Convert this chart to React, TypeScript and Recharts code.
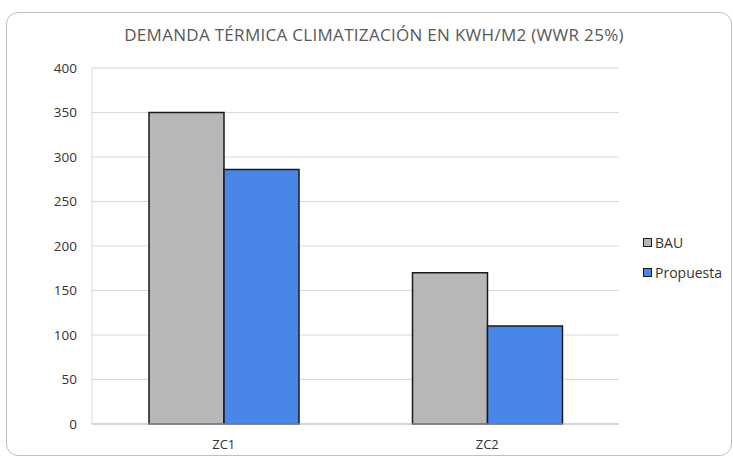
import { BarChart, Bar, XAxis, YAxis, CartesianGrid } from "recharts";

const categories = ["ZC1", "ZC2"];
const bauValues = [350, 170];
const propuestaValues = [286, 110];
const yTicks = [0, 50, 100, 150, 200, 250, 300, 350, 400];

const seriesList = [
  { key: "BAU", values: bauValues, color: "#b7b7b7" },
  { key: "Propuesta", values: propuestaValues, color: "#4a86e8" },
];

const data = categories.map((zone, i) => ({
  zone,
  BAU: bauValues[i],
  Propuesta: propuestaValues[i],
}));

const FONT = "'Open Sans', 'Noto Sans', sans-serif";

export default function App() {
  return (
    <div
      style={{
        position: "absolute",
        left: 0,
        top: 0,
        width: 733,
        height: 457,
        overflow: "hidden",
        background: "#fff",
        fontFamily: FONT,
      }}
    >
      {/* card outline */}
      <div
        style={{
          position: "absolute",
          left: 6,
          top: 12,
          width: 726,
          height: 444,
          border: "1px solid #bfbfbf",
          borderRadius: 12,
          boxSizing: "border-box",
        }}
      />
      <div
        style={{
          position: "absolute",
          left: 0,
          top: 23,
          width: 748,
          textAlign: "center",
          fontSize: 17,
          color: "#595959",
          letterSpacing: 0.3,
        }}
      >
        DEMANDA TÉRMICA CLIMATIZACIÓN EN KWH/M2 (WWR 25%)
      </div>

      <div style={{ position: "absolute", left: 0, top: 0 }}>
        <BarChart
          width={733}
          height={457}
          data={data}
          margin={{ top: 68, right: 114, bottom: 0, left: 0 }}
          barGap={0}
          barSize={75}
        >
          <CartesianGrid stroke="#d9d9d9" vertical={false} />
          <XAxis
            dataKey="zone"
            axisLine={{ stroke: "#bfbfbf" }}
            tickLine={false}
            tick={{ fill: "#333333", fontSize: 13, fontFamily: FONT }}
            tickMargin={10}
            height={33}
          />
          <YAxis
            domain={[0, 400]}
            ticks={yTicks}
            width={92}
            axisLine={{ stroke: "#d9d9d9" }}
            tickLine={false}
            tick={{ fill: "#333333", fontSize: 13.5, fontFamily: FONT }}
            tickMargin={9}
            interval={0}
          />
          {seriesList.map((s) => (
            <Bar
              key={s.key}
              dataKey={s.key}
              fill={s.color}
              stroke="#1a1a1a"
              strokeWidth={1.5}
              isAnimationActive={false}
            />
          ))}
        </BarChart>
      </div>

      {/* legend */}
      {seriesList.map((s, i) => (
        <div
          key={s.key}
          style={{
            position: "absolute",
            left: 643,
            top: 233 + i * 30,
            height: 18,
            display: "flex",
            alignItems: "center",
            fontSize: 14,
            color: "#333333",
          }}
        >
          <span
            style={{
              display: "inline-block",
              width: 7,
              height: 7,
              background: s.color,
              border: "1.5px solid #1a1a1a",
              marginRight: 3,
            }}
          />
          {s.key}
        </div>
      ))}
    </div>
  );
}
